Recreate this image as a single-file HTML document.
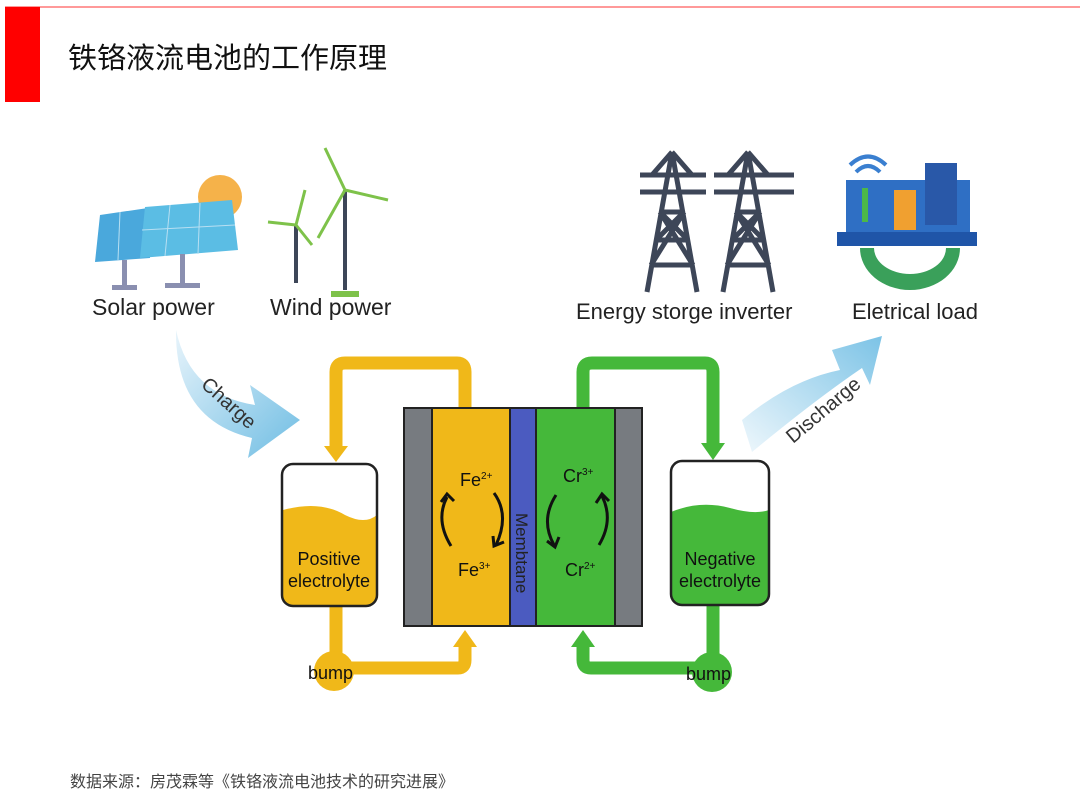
<!DOCTYPE html>
<html><head><meta charset="utf-8"><style>
body{margin:0;width:1080px;height:807px;background:#fff;overflow:hidden;font-family:"Liberation Sans",sans-serif}
</style></head><body>
<svg width="1080" height="807" xmlns="http://www.w3.org/2000/svg" font-family="Liberation Sans, Noto Sans CJK SC, sans-serif">
<defs>
<linearGradient id="gb" x1="0" y1="0" x2="1" y2="1"><stop offset="0" stop-color="#e8f4fb"/><stop offset="1" stop-color="#6fbde3"/></linearGradient>
<linearGradient id="gd" x1="0" y1="1" x2="1" y2="0"><stop offset="0" stop-color="#eef7fc"/><stop offset="1" stop-color="#7cc3e6"/></linearGradient>
</defs>
<line x1="5" y1="7" x2="1080" y2="7" stroke="#f33" stroke-width="1"/>
<rect x="5" y="7" width="35" height="95" fill="#ff0000"/>
<text x="68" y="68" font-size="29" fill="#111">铁铬液流电池的工作原理</text>

<!-- sun & solar -->
<circle cx="220" cy="197" r="22" fill="#f5b24a"/>
<polygon points="100,215 148,208 150,258 95,262" fill="#4aa8dc"/>
<polygon points="145,207 232,200 238,250 140,258" fill="#5bbde4"/>
<g stroke="#b8dff2" stroke-width="1"><line x1="120" y1="212" x2="118" y2="260"/><line x1="170" y1="205" x2="165" y2="256"/><line x1="200" y1="203" x2="198" y2="254"/><line x1="142" y1="230" x2="235" y2="225"/></g>
<rect x="122" y="260" width="5" height="28" fill="#8a8fb0"/><rect x="180" y="254" width="5" height="32" fill="#8a8fb0"/>
<rect x="112" y="285" width="25" height="5" fill="#8a8fb0"/><rect x="165" y="283" width="35" height="5" fill="#8a8fb0"/>
<text x="92" y="315" font-size="23" fill="#222">Solar power</text>
<!-- wind -->
<g stroke="#3d4658" stroke-width="4"><line x1="296" y1="225" x2="296" y2="283"/><line x1="345" y1="190" x2="345" y2="290"/></g>
<g stroke="#7ec24a" stroke-width="3" fill="none"><path d="M345 190 L325 148 M345 190 L388 200 M345 190 L318 238 M296 225 L268 222 M296 225 L305 190 M296 225 L312 245"/></g>
<rect x="331" y="291" width="28" height="6" fill="#7ec24a"/>
<text x="270" y="315" font-size="23" fill="#222">Wind power</text>
<!-- towers -->
<g stroke="#3d4658" stroke-width="5" fill="none">
<path d="M672 152 L647 292 M672 152 L697 292 M656 240 L688 240 M660 212 L684 212 M651 265 L693 265 M660 212 L693 265 M684 212 L651 265 M656 240 L684 212 M688 240 L660 212 M640 175 L706 175 M640 192 L706 192 M672 152 L652 175 M672 152 L692 175"/>
<path d="M748 152 L723 292 M748 152 L773 292 M732 240 L764 240 M736 212 L760 212 M727 265 L769 265 M736 212 L769 265 M760 212 L727 265 M732 240 L760 212 M764 240 L736 212 M714 175 L794 175 M714 192 L794 192 M748 152 L728 175 M748 152 L768 175"/>
</g>
<text x="576" y="319" font-size="22" fill="#222">Energy storge inverter</text>
<!-- load -->
<path d="M850 165 Q868 148 886 165 M856 172 Q868 160 880 172" stroke="#3a7fd0" stroke-width="4" fill="none"/>
<rect x="846" y="180" width="124" height="56" fill="#2f6fc4"/>
<rect x="925" y="163" width="32" height="62" fill="#2958a8"/>
<rect x="894" y="190" width="22" height="40" fill="#f0a030"/>
<rect x="862" y="188" width="6" height="34" fill="#4cb848"/>
<rect x="837" y="232" width="140" height="14" fill="#1f55a8"/>
<path d="M860 248 A50 42 0 0 0 960 248 L946 248 A36 26 0 0 1 874 248 Z" fill="#3aa05a"/>
<text x="852" y="319" font-size="22" fill="#222">Eletrical load</text>

<!-- charge arrow -->
<path d="M176 330 Q190 395 255 405 L250 385 L300 420 L248 458 L252 438 Q175 420 176 330 Z" fill="url(#gb)"/>
<text font-size="20" fill="#333" transform="translate(200,386) rotate(42)">Charge</text>
<!-- discharge arrow -->
<path d="M742 420 Q790 380 840 370 L832 350 L882 336 L870 385 L862 368 Q815 400 752 452 Z" fill="url(#gd)"/>
<text font-size="20" fill="#333" transform="translate(793,444) rotate(-40)">Discharge</text>

<!-- pipes yellow -->
<g stroke="#f0b819" stroke-width="13" fill="none" stroke-linejoin="round">
<path d="M336 450 L336 372 Q336 363 345 363 L457 363 Q465 363 465 372 L465 408"/>
<path d="M336 605 L336 668 L458 668 Q465 668 465 660 L465 645"/>
</g>
<polygon points="324,446 348,446 336,462" fill="#f0b819"/>
<polygon points="453,647 477,647 465,630" fill="#f0b819"/>
<circle cx="334" cy="671" r="20" fill="#f0b819"/>
<text x="308" y="679" font-size="18" fill="#111">bump</text>
<!-- pipes green -->
<g stroke="#45b83a" stroke-width="13" fill="none" stroke-linejoin="round">
<path d="M583 408 L583 372 Q583 363 592 363 L705 363 Q713 363 713 372 L713 445"/>
<path d="M713 605 L713 668 L591 668 Q583 668 583 660 L583 645"/>
</g>
<polygon points="701,443 725,443 713,460" fill="#45b83a"/>
<polygon points="571,647 595,647 583,630" fill="#45b83a"/>
<circle cx="712" cy="672" r="20" fill="#45b83a"/>
<text x="686" y="680" font-size="18" fill="#111">bump</text>

<!-- tanks -->
<path d="M283 510 Q320 500 345 515 Q365 525 377 515 L377 596 Q377 606 367 606 L292 606 Q282 606 282 596 Z" fill="#f0b819"/>
<rect x="282" y="464" width="95" height="142" rx="11" fill="none" stroke="#222" stroke-width="2.5"/>
<text x="329" y="565" font-size="18" text-anchor="middle" fill="#111">Positive</text>
<text x="329" y="587" font-size="18" text-anchor="middle" fill="#111">electrolyte</text>
<path d="M671 512 Q700 500 730 508 Q755 515 769 510 L769 595 Q769 605 759 605 L681 605 Q671 605 671 595 Z" fill="#45b83a"/>
<rect x="671" y="461" width="98" height="144" rx="11" fill="none" stroke="#222" stroke-width="2.5"/>
<text x="720" y="565" font-size="18" text-anchor="middle" fill="#111">Negative</text>
<text x="720" y="587" font-size="18" text-anchor="middle" fill="#111">electrolyte</text>

<!-- cell -->
<rect x="403" y="407" width="240" height="220" fill="#222"/>
<rect x="405" y="409" width="26" height="216" fill="#777b80"/>
<rect x="433" y="409" width="76" height="216" fill="#f0b819"/>
<rect x="511" y="409" width="24" height="216" fill="#4b5bc0"/>
<rect x="537" y="409" width="77" height="216" fill="#45b83a"/>
<rect x="616" y="409" width="25" height="216" fill="#777b80"/>
<text font-size="17" fill="#222" transform="translate(516,513) rotate(90)">Membtane</text>
<text x="460" y="486" font-size="18" fill="#111">Fe<tspan font-size="10" dy="-7">2+</tspan></text>
<text x="458" y="576" font-size="18" fill="#111">Fe<tspan font-size="10" dy="-7">3+</tspan></text>
<text x="563" y="482" font-size="18" fill="#111">Cr<tspan font-size="10" dy="-7">3+</tspan></text>
<text x="565" y="576" font-size="18" fill="#111">Cr<tspan font-size="10" dy="-7">2+</tspan></text>
<g stroke="#111" stroke-width="3" fill="none">
<path d="M451 546 Q435 520 447 497"/><path d="M441 502 L447 494 L454 501"/>
<path d="M494 493 Q510 515 496 545"/><path d="M493 536 L494 546 L504 542"/>
<path d="M556 495 Q540 520 554 545"/><path d="M547 541 L555 547 L559 537"/>
<path d="M599 545 Q614 520 602 496"/><path d="M596 503 L602 494 L609 501"/>
</g>

<text x="70" y="787" font-size="16" fill="#444">数据来源：房茂霖等《铁铬液流电池技术的研究进展》</text>
</svg>
</body></html>
